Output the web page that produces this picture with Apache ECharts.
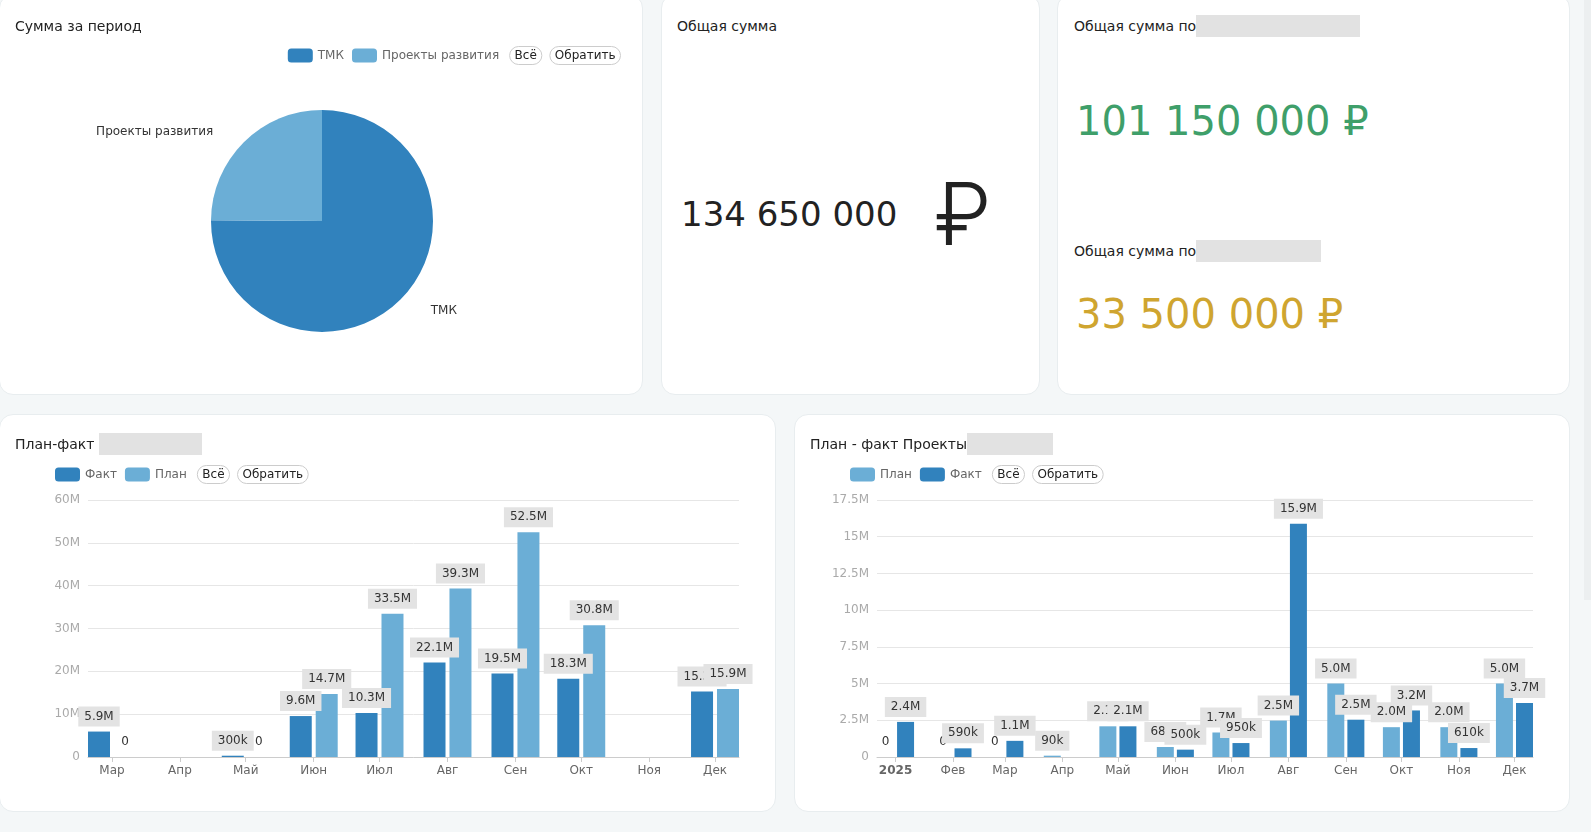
<!DOCTYPE html>
<html>
<head>
<meta charset="utf-8">
<script src="https://cdn.jsdelivr.net/npm/echarts@6/dist/echarts.min.js"></script>
<style>
	body { margin: 0; background: #f4f7f8; width: 1591px; height: 832px; overflow: hidden; position: relative;
		font-family: Verdana, "DejaVu Sans", sans-serif; color: #222; }
	.card { position: absolute; background: #fff; border: 1px solid #e8edef; border-radius: 14px; box-sizing: border-box; }
	.title { position: absolute; font-size: 14px; line-height: 22px; white-space: nowrap; }
	.hidden-part { display: inline-block; vertical-align: middle; height: 22px; background: #e2e2e2; margin-top: -3px; }
	.chart { position: absolute; left: 0; top: 0; width: 100%; height: 100%; }
	.big { position: absolute; white-space: nowrap; line-height: 1; }
	.scroll { position: absolute; left: 1584px; top: 0; width: 7px; height: 600px; background: #eceff0; }
</style>
</head>
<body>

<div class="card" style="left:-1px; top:-6px; width:644px; height:401px;">
	<div class="chart" id="pieChart"></div>
	<div class="title" style="left:15px; top:20px;">Сумма за период</div>
</div>

<div class="card" style="left:661px; top:-6px; width:379px; height:401px;">
	<div class="title" style="left:15px; top:20px;">Общая сумма</div>
	<div class="big" id="totalSum" style="left:19px; top:202px; font-size:34px; color:#222;"></div>
	<div class="big" style="left:272px; top:176px; font-size:86px; font-weight:300; color:#222; font-family:Inter, 'DejaVu Sans', sans-serif;">₽</div>
</div>

<div class="card" style="left:1057px; top:-6px; width:513px; height:401px;">
	<div class="title" style="left:16px; top:20px;">Общая сумма по<span class="hidden-part" style="width:164px;"></span></div>
	<div class="big" id="sumTmk" style="left:18px; top:106px; font-size:40px; color:#3f9f6a;"></div>
	<div class="title" style="left:16px; top:245px;">Общая сумма по<span class="hidden-part" style="width:125px;"></span></div>
	<div class="big" id="sumProj" style="left:18px; top:299px; font-size:40px; color:#cfa530;"></div>
</div>

<div class="card" style="left:-1px; top:414px; width:777px; height:398px;">
	<div class="chart" id="planFactTmk"></div>
	<div class="title" style="left:15px; top:18px;">План-факт<span class="hidden-part" style="width:103px; margin-left:5px;"></span></div>
</div>

<div class="card" style="left:794px; top:414px; width:776px; height:398px;">
	<div class="chart" id="planFactProj"></div>
	<div class="title" style="left:15px; top:18px;">План - факт Проекты<span class="hidden-part" style="width:86px;"></span></div>
</div>

<div class="scroll"></div>

<script>
	// ТМК, март - декабрь 2025, млн руб.
	var monthsTmk = ['2025-03-01', '2025-04-01', '2025-05-01', '2025-06-01', '2025-07-01',
		'2025-08-01', '2025-09-01', '2025-10-01', '2025-11-01', '2025-12-01'];
	var factTmk = [5.94, null, 0.3, 9.56, 10.25, 22.05, 19.51, 18.27, null, 15.27];
	var planTmk = [0, null, 0, 14.73, 33.46, 39.32, 52.5, 30.76, null, 15.88];

	// Проекты развития, январь - декабрь 2025, млн руб.
	var monthsProj = ['2025-01-01', '2025-02-01', '2025-03-01', '2025-04-01', '2025-05-01', '2025-06-01',
		'2025-07-01', '2025-08-01', '2025-09-01', '2025-10-01', '2025-11-01', '2025-12-01'];
	var planProj = [0, 0, 0, 0.09, 2.09, 0.68, 1.67, 2.48, 5.0, 2.03, 2.03, 5.0];
	var factProj = [2.39, 0.59, 1.10, null, 2.09, 0.50, 0.95, 15.89, 2.54, 3.17, 0.61, 3.67];

	var pieNames = ['ТМК', 'Проекты развития'];

	var DARK = '#3182bd';
	var LIGHT = '#6baed6';
	var DAY = 24 * 3600 * 1000;
	var FONT = 'Verdana, "DejaVu Sans", sans-serif';

	echarts.registerLocale('RU', {
		time: {
			month: ['Январь', 'Февраль', 'Март', 'Апрель', 'Май', 'Июнь', 'Июль', 'Август', 'Сентябрь', 'Октябрь', 'Ноябрь', 'Декабрь'],
			monthAbbr: ['Янв', 'Фев', 'Мар', 'Апр', 'Май', 'Июн', 'Июл', 'Авг', 'Сен', 'Окт', 'Ноя', 'Дек'],
			dayOfWeek: ['Воскресенье', 'Понедельник', 'Вторник', 'Среда', 'Четверг', 'Пятница', 'Суббота'],
			dayOfWeekAbbr: ['Вс', 'Пн', 'Вт', 'Ср', 'Чт', 'Пт', 'Сб']
		},
		legend: { selector: { all: 'Всё', inverse: 'Обратить' } }
	});

	function sum(list) {
		var s = 0;
		for (var i = 0; i < list.length; i += 1) {
			if (list[i]) s += list[i];
		}
		return s;
	}

	function rub(mln) {
		return String(Math.round(mln * 1e6)).replace(/\B(?=(\d{3})+(?!\d))/g, ' ');
	}

	function shortValue(v) {
		if (v === 0) return '0';
		if (v < 1) return Math.round(v * 1000) + 'k';
		return v.toFixed(1) + 'M';
	}

	var legendBase = {
		itemGap: 8,
		selector: [{ type: 'all', title: 'Всё' }, { type: 'inverse', title: 'Обратить' }],
		selectorItemGap: 7,
		selectorLabel: { color: '#222', borderColor: '#ccc', fontFamily: FONT },
		textStyle: { color: '#666', fontFamily: FONT }
	};

	var totalTmk = sum(factTmk);
	var totalProj = sum(factProj);

	document.getElementById('totalSum').textContent = rub(totalTmk + totalProj);
	document.getElementById('sumTmk').textContent = rub(totalTmk) + ' ₽';
	document.getElementById('sumProj').textContent = rub(totalProj) + ' ₽';

	// Сумма за период
	var pie = echarts.init(document.getElementById('pieChart'), null, { locale: 'RU' });
	pie.setOption({
		animation: false,
		textStyle: { fontFamily: FONT },
		legend: Object.assign({ right: 16, top: 46 }, legendBase),
		series: [{
			type: 'pie',
			radius: 111,
			center: [322, 226],
			label: { color: '#333', fontSize: 12, fontFamily: FONT },
			labelLine: { show: false, length: 15, length2: 15 },
			data: [
				{ name: pieNames[0], value: totalTmk, itemStyle: { color: DARK } },
				{ name: pieNames[1], value: totalProj, itemStyle: { color: LIGHT } }
			]
		}]
	});

	function barSeries(name, color, barWidth, months, values) {
		return {
			name: name,
			type: 'bar',
			barWidth: barWidth,
			barGap: '18%',
			itemStyle: { color: color },
			label: {
				show: true,
				position: 'top',
				color: '#333',
				fontSize: 12,
				fontFamily: FONT,
				backgroundColor: '#e3e3e3',
				padding: [4, 6],
				formatter: function (p) { return shortValue(p.value[1]); }
			},
			data: months.map(function (m, i) {
				var item = { value: [m, values[i]] };
				if (values[i] === 0) item.label = { backgroundColor: 'transparent' };
				return item;
			})
		};
	}

	function planFact(id, gridLeft, yMax, yInterval, series) {
		var chart = echarts.init(document.getElementById(id), null, { locale: 'RU' });
		chart.setOption({
			animation: false,
			textStyle: { fontFamily: FONT },
			legend: Object.assign({ left: 50, top: 45 }, legendBase),
			grid: { left: gridLeft, right: 36, top: 85, bottom: 54 },
			xAxis: {
				type: 'time',
				minInterval: 28 * DAY,
				maxInterval: 31 * DAY,
				axisLine: { lineStyle: { color: '#ccc' } },
				axisTick: { show: true, lineStyle: { color: '#ccc' } },
				axisLabel: { color: '#666', fontSize: 12, fontFamily: FONT },
				splitLine: { show: false }
			},
			yAxis: {
				type: 'value',
				min: 0,
				max: yMax,
				interval: yInterval,
				axisLabel: { color: '#aaa', fontFamily: FONT, formatter: function (v) { return v === 0 ? '0' : v + 'M'; } },
				splitLine: { lineStyle: { color: '#e6e6e6' } }
			},
			series: series
		});
		return chart;
	}

	planFact('planFactTmk', 88, 60, 10, [
		barSeries('Факт', DARK, 22, monthsTmk, factTmk),
		barSeries('План', LIGHT, 22, monthsTmk, planTmk)
	]);

	planFact('planFactProj', 82, 17.5, 2.5, [
		barSeries('План', LIGHT, 17, monthsProj, planProj),
		barSeries('Факт', DARK, 17, monthsProj, factProj)
	]);
</script>
</body>
</html>
